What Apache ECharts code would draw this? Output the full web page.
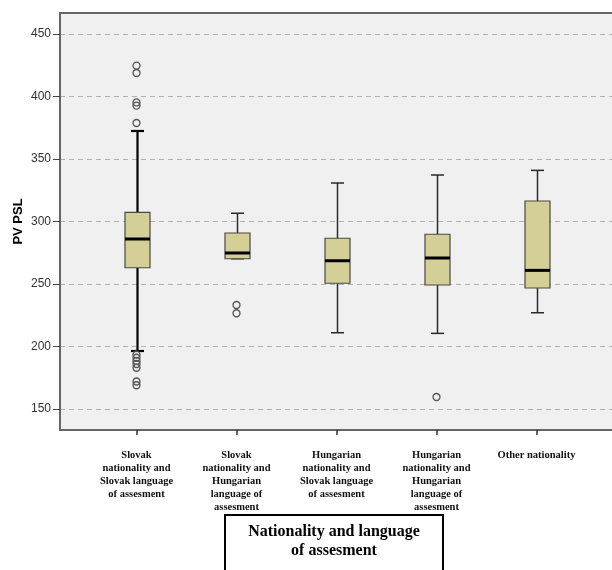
<!DOCTYPE html>
<html><head><meta charset="utf-8">
<script src="https://cdn.jsdelivr.net/npm/echarts@6/dist/echarts.min.js"></script>
<style>html,body{margin:0;padding:0;background:#fff}#c{width:612px;height:570px}</style>
</head><body><div id="c"></div>
<script>
const categories = [
  "Slovak\nnationality and\nSlovak language\nof assesment",
  "Slovak\nnationality and\nHungarian\nlanguage of\nassesment",
  "Hungarian\nnationality and\nSlovak language\nof assesment",
  "Hungarian\nnationality and\nHungarian\nlanguage of\nassesment",
  "Other nationality"
];
const whiskerLow  = [196.4, 270.2, 211.0, 210.5, 227.0];
const q1          = [263.0, 270.2, 250.6, 249.2, 246.8];
const median      = [286.0, 274.8, 268.6, 270.8, 260.9];
const q3          = [307.3, 290.8, 286.6, 289.8, 316.4];
const whiskerHigh = [372.4, 306.6, 330.8, 337.2, 340.9];
const outliers = [
  [424.7, 418.8, 395.3, 392.7, 378.8, 193.5, 191.0, 188.5, 186.0, 183.0, 172.0, 169.0],
  [233.2, 226.6],
  [],
  [159.6],
  []
];
const yTicks = [150, 200, 250, 300, 350, 400, 450];
const xAxisTitle = "Nationality and language\nof assesment";
const yAxisTitle = "PV PSL";

const boxData = categories.map((c, i) => [i + 1, whiskerLow[i], q1[i], median[i], q3[i], whiskerHigh[i]]);
const outlierData = [];
outliers.forEach((arr, i) => arr.forEach(v => outlierData.push([i + 1, v])));

const chart = echarts.init(document.getElementById('c'), null, {renderer: 'canvas'});
chart.setOption({
  animation: false,
  backgroundColor: '#ffffff',
  grid: {left: 60, top: 13, right: 0, bottom: 140, show: true, backgroundColor: '#F0F0F0', borderWidth: 0},
  xAxis: [{
    type: 'value', min: 0.235, max: 5.755,
    axisLine: {show: true, lineStyle: {color: '#666', width: 2}},
    axisTick: {show: true, customValues: [1, 2, 3, 4, 5], length: 5, lineStyle: {color: '#333', width: 1.5}},
    splitLine: {show: false},
    axisLabel: {
      customValues: [1, 2, 3, 4, 5],
      formatter: v => categories[Math.round(v) - 1] || '',
      fontFamily: 'Liberation Serif', fontWeight: 'bold', fontSize: 10.5, color: '#111',
      lineHeight: 13, margin: 19, align: 'center', verticalAlign: 'top'
    }
  }, {
    type: 'value', position: 'top', min: 0.235, max: 5.755,
    axisLine: {show: true, lineStyle: {color: '#666', width: 2}},
    axisTick: {show: false}, axisLabel: {show: false}, splitLine: {show: false}
  }],
  yAxis: {
    type: 'value', min: 133.2, max: 466.8,
    name: yAxisTitle, nameLocation: 'middle', nameRotate: 90, nameGap: 35, nameMoveOverlap: false,
    nameTextStyle: {fontFamily: 'Liberation Sans', fontWeight: 'bold', fontSize: 13, color: '#000'},
    axisLine: {show: true, lineStyle: {color: '#666', width: 2}},
    axisTick: {show: true, customValues: yTicks, length: 7, lineStyle: {color: '#444', width: 1}},
    axisLabel: {customValues: yTicks, fontFamily: 'Liberation Sans', fontSize: 12, color: '#333', margin: 9},
    splitLine: {show: true, lineStyle: {color: '#B0B0B0', type: [5, 4], width: 1}}
  },
  series: [
    {
      type: 'custom',
      data: boxData,
      clip: true,
      renderItem: function (params, api) {
        const i = params.dataIndex;
        const x = api.value(0);
        const pLo = api.coord([x, api.value(1)]);
        const pQ1 = api.coord([x, api.value(2)]);
        const pMed = api.coord([x, api.value(3)]);
        const pQ3 = api.coord([x, api.value(4)]);
        const pHi = api.coord([x, api.value(5)]);
        const cx = Math.round(pQ1[0]) + 0.5;
        const halfBox = 12.5;
        const halfCap = 6.5;
        const thick = i === 0;
        const wCol = thick ? '#000' : '#2a2a2a';
        const wW = thick ? 2.2 : 1.5;
        const children = [
          {type: 'line', shape: {x1: cx, y1: pQ3[1], x2: cx, y2: pHi[1]}, style: {stroke: wCol, lineWidth: wW}},
          {type: 'line', shape: {x1: cx, y1: pQ1[1], x2: cx, y2: pLo[1]}, style: {stroke: wCol, lineWidth: wW}},
          {type: 'line', shape: {x1: cx - halfCap, y1: pHi[1], x2: cx + halfCap, y2: pHi[1]}, style: {stroke: wCol, lineWidth: wW}},
          {type: 'line', shape: {x1: cx - halfCap, y1: pLo[1], x2: cx + halfCap, y2: pLo[1]}, style: {stroke: wCol, lineWidth: wW}},
          {type: 'rect', shape: {x: cx - halfBox, y: pQ3[1], width: 2 * halfBox, height: pQ1[1] - pQ3[1]}, style: {fill: '#D3CF97', stroke: '#4a4a40', lineWidth: 1.2}},
          {type: 'line', shape: {x1: cx - halfBox, y1: pMed[1], x2: cx + halfBox, y2: pMed[1]}, style: {stroke: '#000', lineWidth: 3}}
        ];
        return {type: 'group', children: children};
      },
      z: 3
    },
    {
      type: 'scatter',
      data: outlierData,
      symbol: 'circle',
      symbolSize: 7,
      itemStyle: {color: 'rgba(0,0,0,0)', borderColor: '#555', borderWidth: 1.3, opacity: 1},
      z: 4
    }
  ],
  graphic: [
    {type: 'rect', x: 225, y: 515, shape: {x: 0, y: 0, width: 218, height: 70}, style: {fill: '#fff', stroke: '#000', lineWidth: 2}, z: 10},
    {type: 'text', x: 334, y: 522, style: {
      text: xAxisTitle, fill: '#000', font: 'bold 16px "Liberation Serif"', align: 'center', textAlign: 'center', lineHeight: 19
    }, z: 11}
  ]
});
</script></body></html>
